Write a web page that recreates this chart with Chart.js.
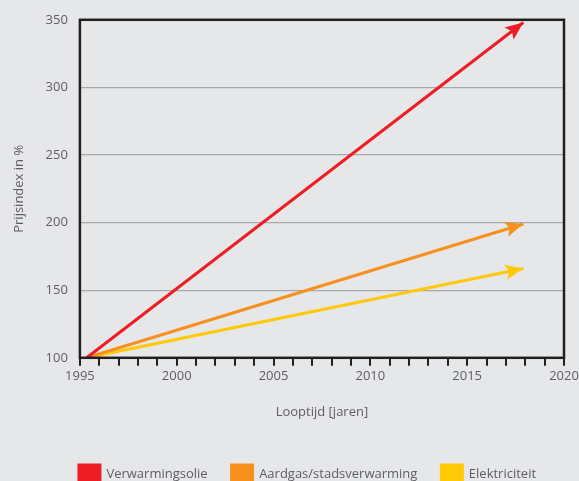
<!DOCTYPE html>
<html>
<head>
<meta charset="utf-8">
<script src="https://cdn.jsdelivr.net/npm/chart.js@4/dist/chart.umd.min.js"></script>
<style>
  html, body { margin: 0; padding: 0; background: #e6e7e9; overflow: hidden; }
  #wrap { width: 579px; height: 494px; }
</style>
</head>
<body>
<div id="wrap"><canvas id="grafico" width="579" height="494"></canvas></div>
<script>
const reeksen = ['Verwarmingsolie', 'Aardgas/stadsverwarming', 'Elektriciteit'];
const jaren = [1995.35, 2017.9];
const verwarmingsolie = [100, 348];
const aardgas = [100, 199];
const elektriciteit = [100, 166];
const yTicks = [100, 150, 200, 250, 300, 350];
const xLabels = [1995, 2000, 2005, 2010, 2015, 2020];

const kleuren = ['#ee1c25', '#f7901e', '#ffc907'];
const tekst = '#5d5e60';
const lettertype = { family: "'Open Sans', sans-serif", size: 13, weight: 400 };

function punten(waarden) {
    return waarden.map((v, i) => ({ x: jaren[i], y: v }));
}

// pijlpunt aan het einde van elke lijn
const pijlen = {
    id: 'pijlen',
    afterDatasetsDraw(chart) {
        const ctx = chart.ctx;
        chart.data.datasets.forEach((ds, i) => {
            const pts = chart.getDatasetMeta(i).data;
            const a = pts[pts.length - 2], b = pts[pts.length - 1];
            const hoek = Math.atan2(b.y - a.y, b.x - a.x);
            const lengte = 18, breedte = 7.5;
            ctx.save();
            ctx.translate(b.x, b.y);
            ctx.rotate(hoek);
            ctx.fillStyle = ds.borderColor;
            ctx.beginPath();
            ctx.moveTo(0, 0);
            ctx.lineTo(-lengte, -breedte);
            ctx.lineTo(-lengte * 0.8, 0);
            ctx.lineTo(-lengte, breedte);
            ctx.closePath();
            ctx.fill();
            ctx.restore();
        });
    }
};

// zwarte rand rond het plotgebied
const kader = {
    id: 'kader',
    afterDraw(chart) {
        const { left, top, right, bottom } = chart.chartArea;
        const ctx = chart.ctx;
        ctx.save();
        ctx.strokeStyle = '#231f20';
        ctx.lineWidth = 2.5;
        ctx.strokeRect(left, top, right - left, bottom - top);
        ctx.restore();
    }
};

// legenda iets naar rechts, zoals in het origineel
const legendaVerschuiving = {
    id: 'legendaVerschuiving',
    afterLayout(chart) {
        chart.legend.left += 15;
        chart.legend.right += 15;
    }
};

const lijnen = [verwarmingsolie, aardgas, elektriciteit];

new Chart(document.getElementById('grafico').getContext('2d'), {
    type: 'scatter',
    data: {
        datasets: lijnen.map((w, i) => ({
            label: reeksen[i],
            data: punten(w),
            showLine: true,
            borderColor: kleuren[i],
            backgroundColor: kleuren[i],
            borderWidth: 3,
            pointRadius: 0
        }))
    },
    options: {
        responsive: false,
        animation: false,
        layout: { padding: { top: 9, right: 5, left: 11, bottom: 0 } },
        plugins: {
            tooltip: { enabled: false },
            legend: {
                position: 'bottom',
                labels: {
                    boxWidth: 21,
                    boxHeight: 19,
                    padding: 24,
                    color: tekst,
                    font: lettertype
                }
            }
        },
        scales: {
            x: {
                type: 'linear',
                min: 1995,
                max: 2020,
                afterFit: s => { s.paddingRight = 15; },
                ticks: {
                    stepSize: 1,
                    autoSkip: false,
                    maxRotation: 0,
                    padding: 3,
                    color: tekst,
                    font: lettertype,
                    callback: v => xLabels.includes(v) ? String(v) : ''
                },
                grid: { drawOnChartArea: false, tickLength: 8, color: '#231f20', lineWidth: 2 },
                border: { display: false },
                title: {
                    display: true,
                    text: 'Looptijd [jaren]',
                    color: tekst,
                    padding: { top: 17, bottom: 21 },
                    font: lettertype
                }
            },
            y: {
                min: 100,
                max: 350,
                afterBuildTicks: s => { s.ticks = yTicks.map(v => ({ value: v })); },
                ticks: {
                    padding: 12,
                    color: tekst,
                    font: lettertype
                },
                grid: { drawTicks: false, color: '#a7a9ac', lineWidth: 1.2 },
                border: { display: false },
                title: {
                    display: true,
                    text: 'Prijsindex in %',
                    color: tekst,
                    padding: { top: 0, bottom: 7 },
                    font: lettertype
                }
            }
        }
    },
    plugins: [pijlen, kader, legendaVerschuiving]
});
</script>
</body>
</html>
